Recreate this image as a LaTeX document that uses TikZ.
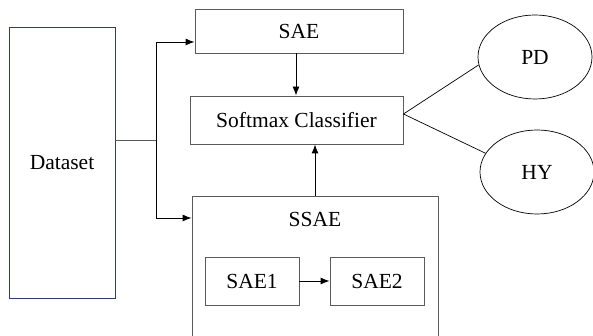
\documentclass[tikz,border=0pt]{standalone}
\usepackage{fontspec}
\setmainfont{Liberation Serif}
\usetikzlibrary{arrows.meta,shapes.geometric}
\definecolor{boxline}{RGB}{90,90,90}
\definecolor{dataline}{RGB}{50,60,110}
\begin{document}
\begin{tikzpicture}[
        x=1pt, y=1pt,
        every node/.style={font=\fontsize{21.5}{25}\selectfont},
        blk/.style={draw=boxline,line width=0.9pt,rectangle,inner sep=0pt},
        cls/.style={draw=black,line width=0.7pt,ellipse,minimum width=114pt,minimum height=84pt},
        arr/.style={-{Latex[length=9pt,width=7pt]},line width=0.9pt},
        link/.style={draw=boxline,line width=0.9pt}
    ]
    \useasboundingbox (0,0) rectangle (593,336);
    \node [blk,draw=dataline,minimum width=106pt,minimum height=271pt] (dataset) at (62,173.5) {Dataset};
    \node [blk,minimum width=208pt,minimum height=44pt] (sae) at (299,305) {SAE};
    \node [blk,minimum width=213pt,minimum height=48pt] (softmax) at (296.5,216) {Softmax Classifier};
    \node [blk,minimum width=246pt,minimum height=150pt] (ssae) at (315,65) {};
    \node (ssaelabel) at (315,117) {SSAE};
    \node [blk,minimum width=94pt,minimum height=48pt] (sae1) at (252,55) {SAE1};
    \node [blk,minimum width=94pt,minimum height=48pt] (sae2) at (377,55) {SAE2};
    \node [cls] (pd) at (535,279) {PD};
    \node [cls] (hy) at (537,164) {HY};
    \coordinate (split) at (156,196);
    % input branches
    \draw [link] (dataset.east |- split) -- (split);
    \draw [arr] (split) |- (sae.west |- 0,294);
    \draw [arr] (split) |- (ssae.west |- 0,118);
    % into the classifier
    \draw [arr] (sae.south -| 296,0) -- (softmax.north -| 296,0);
    \draw [arr] (ssae.north) -- (ssae.north |- softmax.south);
    \draw [arr] (sae1) -- (sae2);
    % outputs
    \draw [line width=0.7pt] ([yshift=6pt]softmax.east) -- (pd.188);
    \draw [line width=0.7pt] ([yshift=6pt]softmax.east) -- (hy.160);
\end{tikzpicture}
\end{document}
